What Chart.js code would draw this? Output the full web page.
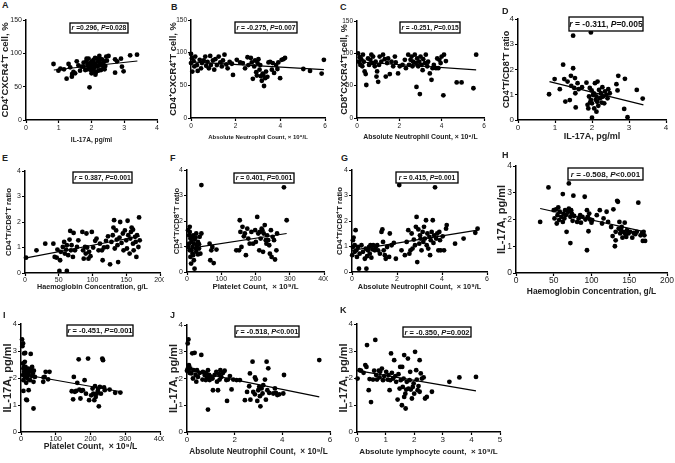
<!DOCTYPE html>
<html>
<head>
<meta charset="utf-8">
<script src="https://cdn.jsdelivr.net/npm/chart.js@4/dist/chart.umd.min.js"></script>
<style>
  body { margin: 0; background: #fff; }
  #fig { position: relative; width: 675px; height: 463px; overflow: hidden; background: #fff; }
  #fig canvas { position: absolute; }
  .tag { position: absolute; font: bold 9px 'Liberation Sans', Arial, sans-serif; line-height: 9px; color: #222; }
</style>
</head>
<body>
<div id="fig"></div>
<script>
// tick labels
const pctTicks = [0, 50, 100, 150];
const ratioTicks = [0, 1, 2, 3, 4];
const il17Ticks = [0, 1, 2, 3, 4];
const neutTicks = [0, 2, 4, 6];
const hbTicks = [0, 50, 100, 150, 200];
const pltTicks = [0, 100, 200, 300, 400];
const lymTicks = [0, 1, 2, 3, 4, 5];

// correlation stats (r, P) per panel A..K
const statR = [' =0.296', ' = -0.275', ' = -0.251', ' = -0.311', ' = 0.387', ' = 0.401', ' = 0.415', ' = -0.508', ' = -0.451', ' = -0.518', ' = -0.350'];
const statP = ['=0.028', '=0.007', '=0.015', '=0.005', '=0.001', '=0.001', '=0.001', '<0.001', '=0.001', '<0.001', '=0.002'];

// A: IL-17A vs CD4+CXCR4+ %
const aPts = [[0.84,84],[0.99,74],[1.05,77],[1.16,76],[1.24,62],[1.30,84],[1.35,79],[1.40,65],[1.41,69],[1.45,72],[1.50,70],[1.55,88],[1.60,82],[1.65,74],[1.70,80],[1.76,86],[1.76,80],[1.81,75],[1.84,88],[1.85,92],[1.88,83],[1.88,76],[1.91,92],[1.92,79],[1.94,85],[1.94,49],[1.96,80],[1.98,75],[1.98,84],[2.0,70],[2.01,88],[2.02,86],[2.04,83],[2.06,90],[2.06,73],[2.08,78],[2.11,85],[2.11,93],[2.12,68],[2.14,72],[2.15,82],[2.16,92],[2.19,80],[2.21,88],[2.21,74],[2.24,96],[2.25,86],[2.27,83],[2.27,91],[2.29,75],[2.30,82],[2.32,91],[2.35,85],[2.37,78],[2.39,88],[2.40,76],[2.42,81],[2.45,95],[2.47,89],[2.52,96],[2.72,91],[2.78,88],[2.72,71],[2.90,92],[2.93,80],[2.98,73],[3.18,97],[3.39,98]];
const aFit = [[0.85,75],[3.4,88.5]];

// B: neutrophil vs CD4+CXCR4+ %
const bPts = [[0,98],[0.04,91.5],[0,84],[0.06,71],[0.12,87],[0.15,79],[0.19,94],[0.27,81],[0.3,72],[0.39,89],[0.45,76],[0.49,84],[0.57,88],[0.64,94],[0.68,80],[0.74,86],[0.8,76],[0.86,95],[0.89,81],[0.98,88],[1.04,74],[1.09,90],[1.16,81],[1.24,94],[1.31,85],[1.38,79],[1.43,88],[1.5,97],[1.58,82],[1.64,76],[1.73,86],[1.83,83],[1.88,66],[2.05,89],[2.2,85],[2.32,84],[2.42,76],[2.53,93],[2.57,81],[2.68,92],[2.72,85],[2.77,60],[2.83,79],[2.87,88],[2.92,70],[2.95,65],[2.98,84],[3.02,90],[3.07,74],[3.1,81],[3.13,64],[3.17,57],[3.21,68],[3.24,66],[3.27,49],[3.32,61],[3.36,71],[3.42,63],[3.47,85],[3.54,86],[3.62,74],[3.66,84],[3.72,69],[3.81,81],[3.87,75],[3.91,85],[3.99,61],[4.06,89],[4.14,90],[4.21,92],[5.03,75],[5.33,72],[5.85,68],[5.95,89]];
const bFit = [[0,86],[5.95,74]];

// C: neutrophil vs CD8+CXCR4+ %
const cPts = [[0.05,100],[0.09,87],[0.13,94],[0.16,82],[0.2,91],[0.25,80],[0.28,98],[0.32,87],[0.36,72],[0.41,68],[0.44,51],[0.52,92],[0.57,82],[0.63,90],[0.68,98],[0.73,85],[0.76,95],[0.84,80],[0.88,87],[0.92,64],[0.95,72],[1.0,56],[1.04,82],[1.07,95],[1.15,87],[1.23,98],[1.31,91],[1.36,64],[1.42,85],[1.47,92],[1.55,68],[1.63,87],[1.71,80],[1.79,95],[1.83,86],[1.94,69],[2.02,80],[2.15,82],[2.26,90],[2.31,77],[2.42,98],[2.46,82],[2.53,90],[2.58,95],[2.62,80],[2.65,87],[2.73,98],[2.78,85],[2.81,48],[2.84,92],[2.89,80],[2.94,87],[2.97,37],[3.0,95],[3.05,82],[3.1,74],[3.13,91],[3.21,85],[3.25,98],[3.32,80],[3.36,87],[3.44,69],[3.52,59],[3.57,77],[3.63,82],[3.73,77],[3.79,92],[3.84,77],[3.89,90],[3.95,85],[4.0,95],[4.08,35],[4.11,98],[4.2,88],[4.71,55],[4.94,55],[5.5,46],[5.63,98]];
const cFit = [[0,87],[5.63,74.5]];

// D: IL-17A vs CD4/CD8 ratio
const dPts = [[0.84,1.02],[0.99,1.62],[1.13,1.22],[1.22,2.19],[1.25,1.62],[1.28,0.73],[1.34,1.52],[1.40,0.79],[1.43,1.75],[1.44,1.35],[1.49,2.05],[1.49,3.34],[1.52,1.27],[1.54,1.66],[1.55,1.06],[1.56,0.5],[1.61,1.46],[1.64,1.22],[1.73,1.3],[1.85,1.48],[1.88,0.6],[1.90,0.46],[1.92,0.93],[1.94,1.27],[1.95,0.7],[1.97,3.47],[1.97,0.8],[1.99,1.17],[2.0,0.09],[2.0,0.66],[2.03,0.99],[2.05,1.05],[2.06,0.46],[2.08,1.46],[2.1,0.8],[2.12,0.93],[2.12,0.33],[2.14,0.72],[2.15,1.52],[2.17,0.56],[2.19,1.19],[2.21,0.86],[2.24,1.06],[2.25,0.9],[2.26,0.69],[2.28,1.3],[2.3,0.93],[2.33,0.66],[2.35,1.13],[2.39,0.99],[2.42,0.86],[2.44,1.22],[2.48,1.06],[2.66,1.42],[2.69,1.17],[2.71,1.75],[2.87,0.44],[2.89,1.63],[2.96,0.11],[3.21,1.19],[3.37,0.85]];
const dFit = [[0.85,1.52],[3.39,0.6]];

// E: haemoglobin vs CD4/CD8 ratio
const ePts = [[1.5,0.6],[17,0.89],[30,1.15],[42,1.15],[44,0.63],[47,0.6],[48,0.92],[51,0.08],[52,0.5],[53,0.83],[56,1.02],[58,1.22],[59,0.76],[61,0.92],[62,1.09],[62,0.08],[64,0.7],[66,1.31],[67,1.65],[68,0.89],[69,1.09],[71,0.63],[72,1.57],[74,0.89],[77,1.02],[79,1.28],[82,3.75],[85,1.61],[86,0.89],[87,0.56],[89,1.02],[90,0.76],[91,1.55],[92,1.0],[94,0.56],[95,0.83],[97,0.66],[99,1.61],[101,1.0],[104,1.26],[106,1.35],[109,0.89],[111,1.15],[114,0.89],[115,0.5],[117,1.0],[120,1.26],[122,1.02],[123,1.44],[126,0.34],[128,1.22],[130,1.48],[131,1.78],[132,2.07],[133,0.96],[135,1.67],[136,1.31],[137,1.09],[138,0.43],[140,1.39],[141,2.0],[143,1.18],[145,1.55],[146,0.89],[148,1.67],[150,1.28],[151,0.96],[151,3.67],[152,2.05],[153,1.48],[155,0.76],[156,1.35],[157,1.61],[158,1.78],[160,1.15],[160,1.7],[161,0.89],[163,1.42],[164,1.22],[165,0.63],[166,1.48],[168,1.02],[169,2.18],[170,1.28]];
const eFit = [[2,0.59],[170,1.44]];

// F: platelet vs CD4/CD8 ratio
const fPts = [[3,1.64],[8,1.57],[10,1.31],[13,1.18],[13,0.85],[16,0.98],[18,1.44],[18,0.66],[20,1.11],[20,0.46],[22,1.27],[22,0.13],[25,0.92],[27,0.79],[27,1.51],[29,1.05],[32,1.18],[35,0.92],[37,1.38],[39,0.72],[42,3.41],[42,1.51],[6,1.44],[6,1.11],[8,0.85],[10,0.59],[12,0.33],[14,1.35],[16,0.72],[8,1.77],[3,0.98],[32,0.69],[25,1.35],[35,1.09],[66,1.11],[68,0.46],[71,0.85],[74,0.98],[78,0.35],[86,0.88],[144,0.85],[152,0.85],[154,2.03],[156,1.57],[159,0.98],[162,1.77],[166,1.4],[169,1.51],[172,0.66],[176,1.7],[179,1.31],[183,1.11],[188,1.57],[193,1.11],[199,1.64],[201,1.18],[205,2.16],[208,1.51],[211,0.85],[213,1.57],[215,1.31],[218,1.7],[220,1.64],[222,0.79],[224,1.51],[227,1.84],[230,1.25],[232,1.11],[234,1.44],[237,1.25],[240,1.05],[242,0.72],[245,1.64],[247,0.59],[250,1.38],[254,1.25],[257,0.49],[261,0.85],[263,1.51],[283,3.32],[291,2.03]];
const fFit = [[3,0.92],[291,1.51]];

// G: neutrophil vs CD4/CD8 ratio
const gPts = [[0.01,0.66],[0.04,0.98],[0.04,1.25],[0.07,1.35],[0.12,1.05],[0.12,0.79],[0.16,1.64],[0.19,0.85],[0.22,0.59],[0.27,0.98],[0.31,0.13],[0.34,0.72],[0.42,1.05],[0.49,0.79],[0.57,0.52],[0.61,0.92],[0.64,0.13],[0.67,0.62],[0.71,0.85],[0.76,0.98],[0.79,0.72],[0.82,1.05],[0.86,0.56],[0.91,0.89],[0.94,1.05],[1.01,0.85],[1.06,0.98],[1.12,1.05],[1.16,0.85],[1.24,0.72],[1.31,1.57],[1.35,1.67],[1.38,1.18],[1.41,0.85],[1.46,0.66],[1.5,0.52],[1.56,0.98],[1.65,0.59],[1.68,1.51],[1.76,1.05],[1.86,1.14],[1.95,0.52],[2.1,3.41],[2.2,0.85],[2.35,0.66],[2.43,1.18],[2.5,1.64],[2.55,0.72],[2.6,0.85],[2.65,1.51],[2.69,0.92],[2.75,1.27],[2.8,1.05],[2.84,1.77],[2.87,2.16],[2.9,0.39],[2.95,1.67],[2.99,1.11],[3.02,1.44],[3.05,1.31],[3.09,0.85],[3.14,1.57],[3.17,1.18],[3.2,1.77],[3.24,1.31],[3.29,2.03],[3.32,1.05],[3.35,1.51],[3.39,0.92],[3.44,1.38],[3.47,0.66],[3.5,1.25],[3.54,1.57],[3.59,2.03],[3.62,1.14],[3.65,1.44],[3.69,3.32],[3.74,1.31],[3.79,1.51],[3.84,0.85],[3.88,1.57],[3.91,1.25],[3.94,0.85],[4.03,1.4],[4.09,0.85],[4.18,1.7],[4.21,1.84],[4.58,1.11],[4.96,1.31],[5.48,1.54],[5.58,1.7]];
const gFit = [[0,0.85],[5.58,1.64]];

// H: haemoglobin vs IL-17A
const hPts = [[32,1.91],[43,3.2],[50,2.35],[51,2.04],[53,2.38],[54,1.85],[55,2.16],[56,2.45],[57,1.98],[58,2.29],[60,2.1],[62,2.95],[62,1.91],[63,2.22],[64,2.04],[65,2.35],[66,2.16],[67,1.54],[69,2.29],[70,2.41],[70,3.35],[72,2.1],[72,1.12],[73,2.35],[74,2.22],[75,1.95],[76,2.89],[77,2.13],[81,1.91],[83,2.04],[85,2.16],[86,1.88],[88,2.1],[91,2.85],[92,2.0],[94,0.85],[94,2.35],[95,2.1],[96,1.56],[97,2.22],[98,2.0],[100,1.88],[101,1.98],[107,2.16],[111,2.35],[114,1.85],[116,2.04],[120,2.29],[122,1.91],[126,1.72],[128,1.38],[129,2.38],[131,1.0],[132,1.54],[132,1.22],[134,2.7],[135,2.66],[136,1.66],[137,1.91],[138,1.48],[139,1.6],[140,1.72],[141,1.32],[142,1.54],[144,1.88],[145,1.45],[146,1.35],[147,1.6],[149,1.48],[151,1.54],[154,1.32],[156,1.5],[158,1.45],[160,1.54],[162,2.63],[165,1.41],[167,1.5],[168,1.2],[169,1.54],[170,1.41],[171,1.2]];
const hFit = [[32,2.41],[171,1.54]];

// I: platelet vs IL-17A
const iPts = [[3,3.43],[6,3.28],[4,3.18],[7,1.52],[9,2.91],[12,2.93],[6,2.54],[7,2.35],[9,2.23],[11,2.11],[12,2.02],[13,2.41],[15,2.17],[15,1.82],[17,2.29],[19,1.98],[21,2.11],[21,2.35],[22,1.55],[24,2.23],[26,1.92],[28,2.29],[28,2.89],[31,2.07],[32,2.41],[34,2.17],[36,0.87],[36,1.86],[37,2.27],[40,2.04],[17,1.18],[15,1.2],[6,2.11],[7,1.92],[9,2.41],[11,2.6],[64,1.86],[65,2.02],[68,2.04],[71,2.23],[78,1.95],[82,2.23],[146,1.51],[150,1.21],[152,2.04],[155,1.49],[159,1.52],[162,1.82],[166,2.69],[168,1.57],[171,1.24],[174,1.52],[178,1.55],[183,1.92],[187,1.42],[193,2.72],[196,1.18],[202,1.36],[206,1.61],[208,1.42],[211,1.18],[213,1.7],[215,1.3],[218,1.42],[221,1.52],[222,1.61],[224,0.95],[227,1.67],[230,1.42],[234,2.72],[236,2.66],[239,1.65],[241,1.55],[255,1.57],[271,1.45],[286,1.46]];
const iFit = [[3,2.14],[288,1.49]];

// J: neutrophil vs IL-17A
const jPts = [[0,2.29],[0.03,3.31],[0.06,3.46],[0.04,2.38],[0.08,2.5],[0.11,2.21],[0.14,2.38],[0.18,2.19],[0.22,2.94],[0.25,2.0],[0.28,2.31],[0.32,2.96],[0.36,2.13],[0.39,1.88],[0.42,2.31],[0.46,2.06],[0.53,2.21],[0.6,2.88],[0.65,1.96],[0.67,2.25],[0.74,2.13],[0.79,1.94],[0.81,2.21],[0.84,2.04],[0.88,2.31],[0.88,0.84],[0.93,2.13],[0.95,1.94],[0.98,2.06],[1.07,2.0],[1.09,1.56],[1.16,2.13],[1.23,2.25],[1.26,1.88],[1.3,1.56],[1.35,2.16],[1.37,1.96],[1.4,2.31],[1.44,2.06],[1.51,2.21],[1.58,2.29],[1.65,1.94],[1.68,1.16],[1.72,1.96],[1.8,2.09],[1.87,1.59],[1.94,1.96],[2.08,1.94],[2.22,1.94],[2.43,1.19],[2.52,1.5],[2.61,1.71],[2.64,2.19],[2.66,1.21],[2.75,2.63],[2.78,1.5],[2.85,2.04],[2.85,1.41],[2.89,1.96],[2.95,1.16],[2.99,1.56],[3.03,1.69],[3.06,1.34],[3.08,0.96],[3.13,1.63],[3.17,1.44],[3.2,1.75],[3.27,1.96],[3.31,1.21],[3.34,2.63],[3.37,1.56],[3.41,2.38],[3.45,1.46],[3.62,1.44],[3.69,1.63],[3.73,1.46],[3.79,1.38],[3.87,1.41],[4.04,1.44],[4.07,2.13],[5.55,2.69]];
const jFit = [[0,2.31],[5.55,1.31]];

// K: lymphocyte vs IL-17A
const kPts = [[0.02,1.98],[0.09,2.29],[0.14,2.27],[0.23,2.19],[0.29,2.48],[0.33,2.41],[0.35,3.22],[0.41,1.55],[0.44,1.96],[0.49,1.11],[0.56,1.94],[0.6,2.27],[0.64,3.41],[0.67,2.11],[0.7,1.94],[0.76,2.27],[0.79,2.02],[0.81,2.23],[0.87,2.35],[0.91,1.92],[0.95,2.07],[1.02,2.23],[1.07,1.94],[1.1,2.11],[1.14,1.55],[1.16,1.92],[1.19,2.91],[1.22,2.19],[1.26,1.98],[1.3,2.66],[1.34,2.07],[1.37,1.86],[1.42,1.2],[1.45,2.14],[1.49,1.61],[1.51,2.41],[1.53,1.92],[1.57,0.99],[1.58,2.41],[1.6,1.67],[1.63,1.98],[1.65,2.85],[1.65,1.3],[1.69,1.42],[1.7,0.87],[1.72,1.57],[1.74,1.86],[1.78,2.72],[1.8,1.61],[1.84,1.92],[1.86,2.23],[1.88,1.57],[1.92,1.24],[1.95,1.67],[1.98,1.8],[2.0,1.42],[2.03,2.97],[2.07,2.29],[2.09,1.94],[2.12,1.55],[2.15,1.7],[2.19,2.66],[2.19,1.49],[2.23,2.17],[2.27,1.98],[2.33,2.02],[2.38,1.24],[2.44,1.3],[2.62,1.49],[3.23,1.86],[3.58,2.02],[4.16,2.04]];
const kFit = [[0.02,2.27],[4.16,1.52]];

const FAM = "'Liberation Sans', Arial, sans-serif";
const INK = '#222';

// layout of each panel: plot box [left, top, right, bottom] in page px
const panels = [
  { tag: 'A', tagAt: [2, 1], pts: aPts, fit: aFit, xt: il17Ticks, yt: pctTicks, xTitle: 'IL-17A, pg/ml', yTitle: 'CD4⁺CXCR4⁺T cell, %',
    plot: [26, 20, 157, 120], ty: 20, tx: 20, yfs: 9.5, xfs: 6.6, tfs: 7, tpad: 1, R: 8, box: [99, 28, 58, 10, 6.8] },
  { tag: 'B', tagAt: [171, 3], pts: bPts, fit: bFit, xt: neutTicks, yt: pctTicks, xTitle: 'Absolute Neutrophil Count, × 10⁹/L', yTitle: 'CD4⁺CXCR4⁺T cell, %',
    plot: [191, 20, 325, 118], ty: 17.5, tx: 19, yfs: 9.3, xfs: 6, tfs: 6.5, tpad: 1.5, R: 8, box: [266, 27.5, 62, 11, 6.8] },
  { tag: 'C', tagAt: [340, 3], pts: cPts, fit: cFit, xt: neutTicks, yt: pctTicks, xTitle: 'Absolute Neutrophil Count, × 10⁹/L', yTitle: 'CD8⁺CXCR4⁺T cell, %',
    plot: [357, 21, 484, 118], ty: 13, tx: 19, yfs: 9, xfs: 6.9, tfs: 6.5, tpad: 1.5, R: 8, box: [430, 27.5, 60, 11, 6.6] },
  { tag: 'D', tagAt: [502, 7], pts: dPts, fit: dFit, xt: il17Ticks, yt: ratioTicks, xTitle: 'IL-17A, pg/ml', yTitle: 'CD4⁺T/CD8⁺T ratio',
    plot: [518, 19, 666, 120], ty: 12, tx: 17, yfs: 9, xfs: 9, tfs: 8, tpad: 0, R: 9, box: [606, 24, 74, 14, 8.5] },
  { tag: 'E', tagAt: [2, 154], pts: ePts, fit: eFit, xt: hbTicks, yt: ratioTicks, xTitle: 'Haemoglobin Concentration, g/L', yTitle: 'CD4⁺T/CD8⁺T ratio',
    plot: [25, 171, 160, 273], ty: 16.5, tx: 14, yfs: 7.8, xfs: 7.2, tfs: 7, tpad: 0, R: 4, box: [102.5, 177.5, 59, 11, 6.8] },
  { tag: 'F', tagAt: [170, 154], pts: fPts, fit: fFit, xt: pltTicks, yt: ratioTicks, xTitle: 'Platelet Count,  × 10⁹/L', yTitle: 'CD4⁺T/CD8⁺T ratio',
    plot: [187, 170, 324, 272], ty: 10, tx: 15, yfs: 7.6, xfs: 7.9, tfs: 7, tpad: 0, R: 4, box: [264, 178, 60, 10, 6.8] },
  { tag: 'G', tagAt: [341, 154], pts: gPts, fit: gFit, xt: neutTicks, yt: ratioTicks, xTitle: 'Absolute Neutrophil Count,  × 10⁹/L', yTitle: 'CD4⁺T/CD8⁺T ratio',
    plot: [352, 170, 487, 272], ty: 12, tx: 15, yfs: 7.8, xfs: 7.3, tfs: 7, tpad: 0, R: 8, box: [427, 177.5, 62, 11, 6.8] },
  { tag: 'H', tagAt: [502, 151], pts: hPts, fit: hFit, xt: hbTicks, yt: il17Ticks, xTitle: 'Haemoglobin Concentration, g/L', yTitle: 'IL-17A, pg/ml',
    plot: [516, 166, 667, 273], ty: 14, tx: 19, yfs: 11, xfs: 8.4, tfs: 8.5, tpad: 0, R: 8, box: [605.5, 174, 75, 12, 8] },
  { tag: 'I', tagAt: [3, 311], pts: iPts, fit: iFit, xt: pltTicks, yt: il17Ticks, xTitle: 'Platelet Count,  × 10⁹/L', yTitle: 'IL-17A, pg/ml',
    plot: [21, 324, 163, 432], ty: 13, tx: 15, yfs: 11, xfs: 8.6, tfs: 7.5, tpad: -1, R: 1, box: [100, 330.5, 66, 11, 7.5] },
  { tag: 'J', tagAt: [170, 311], pts: jPts, fit: jFit, xt: neutTicks, yt: il17Ticks, xTitle: 'Absolute Neutrophil Count,  × 10⁹/L', yTitle: 'IL-17A, pg/ml',
    plot: [187, 325, 330, 432], ty: 13, tx: 20, yfs: 11, xfs: 8.2, tfs: 8, tpad: 0, R: 8, box: [267, 331.5, 64, 11, 7.2] },
  { tag: 'K', tagAt: [340, 306], pts: kPts, fit: kFit, xt: lymTicks, yt: il17Ticks, xTitle: 'Absolute lymphocyte count,  × 10⁹/L', yTitle: 'IL-17A, pg/ml',
    plot: [357, 324, 500, 432], ty: 13, tx: 20, yfs: 11, xfs: 8, tfs: 8, tpad: 0, R: 8, box: [437, 332, 68, 10, 7.5] }
];

// boxed "r = ..., P=..." label drawn inside the plot area
function statBox(p, idx) {
  return {
    id: 'statBox' + idx,
    afterDraw(chart) {
      const ctx = chart.ctx, a = chart.chartArea;
      const [bx, by, bw, bh, fs] = p.box;
      const cx = a.left + (bx - p.plot[0]), cy = a.top + (by - p.plot[1]);
      const parts = [['r', true], [statR[idx], false], [', ', false], ['P', true], [statP[idx], false]];
      ctx.save();
      ctx.fillStyle = '#fff';
      ctx.fillRect(cx - bw / 2, cy - bh / 2, bw, bh);
      ctx.strokeStyle = '#000';
      ctx.lineWidth = 1.3;
      ctx.strokeRect(cx - bw / 2, cy - bh / 2, bw, bh);
      let total = 0;
      const ws = parts.map(([t, it]) => {
        ctx.font = (it ? 'italic ' : '') + 'bold ' + fs + 'px ' + FAM;
        const w = ctx.measureText(t).width;
        total += w;
        return w;
      });
      let x = cx - total / 2;
      ctx.textBaseline = 'middle';
      ctx.fillStyle = '#111';
      parts.forEach(([t, it], i) => {
        ctx.font = (it ? 'italic ' : '') + 'bold ' + fs + 'px ' + FAM;
        ctx.fillText(t, x, cy + 0.5);
        x += ws[i];
      });
      ctx.restore();
    }
  };
}

function axis(ticks, fs, pad, title, tfs) {
  return {
    type: 'linear',
    min: ticks[0],
    max: ticks[ticks.length - 1],
    afterBuildTicks: (s) => { s.ticks = ticks.map((v) => ({ value: v })); },
    grid: { drawOnChartArea: false, drawTicks: true, tickLength: 3, tickColor: '#000', tickWidth: 1.2 },
    border: { display: true, color: '#000', width: 1.5 },
    ticks: { font: { family: FAM, size: fs }, color: INK, padding: pad, maxRotation: 0, autoSkip: false },
    title: { display: true, text: title, color: INK, padding: 0, font: { family: FAM, size: tfs, weight: 'bold' } }
  };
}

const fig = document.getElementById('fig');

panels.forEach((p, idx) => {
  const [pl, pt, pr, pb] = p.plot;
  const L = Math.round(p.ty + p.yfs * 0.6);
  const B = Math.round(p.tx + p.xfs * 0.6);
  const T = 6;
  const cv = document.createElement('canvas');
  cv.width = L + (pr - pl) + p.R;
  cv.height = T + (pb - pt) + B;
  cv.style.left = (pl - L) + 'px';
  cv.style.top = (pt - T) + 'px';
  fig.appendChild(cv);

  const tag = document.createElement('div');
  tag.className = 'tag';
  tag.textContent = p.tag;
  tag.style.left = p.tagAt[0] + 'px';
  tag.style.top = p.tagAt[1] + 'px';
  fig.appendChild(tag);

  const xs = axis(p.xt, p.tfs, p.tpad, p.xTitle, p.xfs);
  xs.afterFit = (s) => { s.height = B; s.paddingLeft = 0; s.paddingRight = 0; };
  const ys = axis(p.yt, p.tfs, 1, p.yTitle, p.yfs);
  ys.afterFit = (s) => { s.width = L; s.paddingTop = 0; s.paddingBottom = 0; };

  new Chart(cv, {
    type: 'scatter',
    data: {
      datasets: [
        {
          type: 'scatter',
          data: p.pts.map(([x, y]) => ({ x, y })),
          backgroundColor: '#000',
          borderWidth: 0,
          pointRadius: 2.4,
          clip: false
        },
        {
          type: 'line',
          data: p.fit.map(([x, y]) => ({ x, y })),
          borderColor: '#000',
          borderWidth: 1.2,
          pointRadius: 0,
          fill: false,
          clip: false
        }
      ]
    },
    options: {
      responsive: false,
      animation: false,
      devicePixelRatio: 1,
      layout: { padding: { top: T, right: p.R, left: 0, bottom: 0 } },
      plugins: { legend: { display: false }, tooltip: { enabled: false } },
      scales: { x: xs, y: ys }
    },
    plugins: [statBox(p, idx)]
  });
});
</script>
</body>
</html>
